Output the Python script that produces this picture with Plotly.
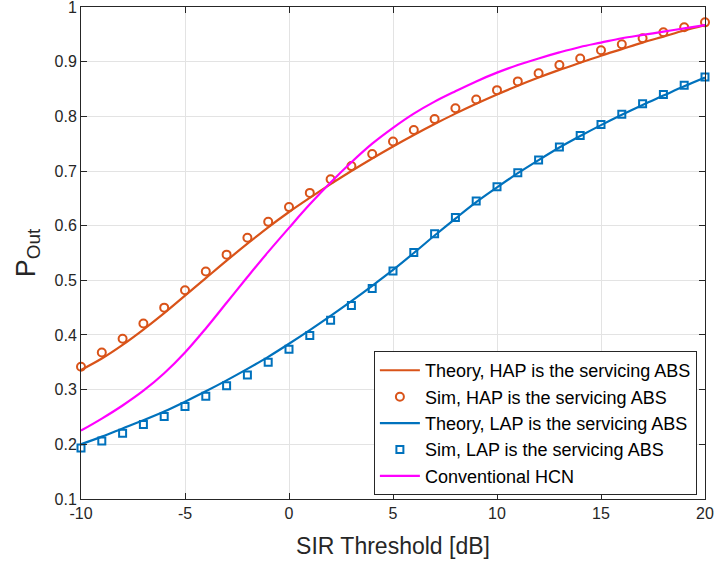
import plotly.graph_objects as go

sir_db = list(range(-10, 21))

theory_hap = [0.336, 0.357, 0.382, 0.410, 0.440, 0.472, 0.504, 0.536, 0.567, 0.597,
              0.625, 0.651, 0.676, 0.700, 0.723, 0.745, 0.766, 0.786, 0.805, 0.823,
              0.840, 0.856, 0.871, 0.885, 0.898, 0.911, 0.923, 0.935, 0.946, 0.957, 0.967]

sim_hap = [0.342, 0.368, 0.393, 0.421, 0.450, 0.482, 0.516, 0.547, 0.578, 0.607,
           0.634, 0.660, 0.685, 0.709, 0.731, 0.754, 0.775, 0.795, 0.815, 0.831,
           0.848, 0.864, 0.879, 0.894, 0.906, 0.921, 0.932, 0.943, 0.954, 0.963, 0.972]

theory_lap = [0.200, 0.214, 0.229, 0.244, 0.260, 0.278, 0.297, 0.317, 0.338, 0.360,
              0.384, 0.409, 0.435, 0.462, 0.490, 0.519, 0.550, 0.582, 0.613, 0.643,
              0.670, 0.696, 0.720, 0.743, 0.764, 0.784, 0.803, 0.821, 0.838, 0.855, 0.871]

sim_lap = [0.193, 0.206, 0.220, 0.236, 0.251, 0.269, 0.288, 0.307, 0.327, 0.350,
           0.374, 0.399, 0.427, 0.454, 0.485, 0.517, 0.551, 0.585, 0.615, 0.645,
           0.671, 0.697, 0.720, 0.744, 0.765, 0.785, 0.804, 0.823, 0.840, 0.857, 0.872]

conv_hcn = [0.225, 0.247, 0.271, 0.298, 0.330, 0.368, 0.412, 0.459, 0.506, 0.552,
            0.596, 0.639, 0.679, 0.716, 0.750, 0.779, 0.805, 0.827, 0.846, 0.864,
            0.880, 0.894, 0.906, 0.917, 0.927, 0.935, 0.943, 0.949, 0.955, 0.961, 0.967]

x_tickvals = [-10, -5, 0, 5, 10, 15, 20]
x_ticktext = ["-10", "-5", "0", "5", "10", "15", "20"]
y_tickvals = [0.1, 0.2, 0.3, 0.4, 0.5, 0.6, 0.7, 0.8, 0.9, 1.0]
y_ticktext = ["0.1", "0.2", "0.3", "0.4", "0.5", "0.6", "0.7", "0.8", "0.9", "1"]

names = ["Theory, HAP is the servicing ABS", "Sim, HAP is the servicing ABS",
         "Theory, LAP is the servicing ABS", "Sim, LAP is the servicing ABS",
         "Conventional HCN"]

C_HAP = "#D95319"
C_LAP = "#0072BD"
C_HCN = "#FF00FF"
AX = "#262626"
FONT = "Liberation Sans, Arial, sans-serif"

fig = go.Figure()
fig.add_trace(go.Scatter(x=sir_db, y=theory_hap, mode="lines", name=names[0],
                         line=dict(color=C_HAP, width=2.2, shape="spline")))
fig.add_trace(go.Scatter(x=sir_db, y=sim_hap, mode="markers", name=names[1], cliponaxis=False,
                         marker=dict(symbol="circle-open", size=8, color=C_HAP,
                                     line=dict(width=2, color=C_HAP))))
fig.add_trace(go.Scatter(x=sir_db, y=theory_lap, mode="lines", name=names[2],
                         line=dict(color=C_LAP, width=2.2, shape="spline")))
fig.add_trace(go.Scatter(x=sir_db, y=sim_lap, mode="markers", name=names[3], cliponaxis=False,
                         marker=dict(symbol="square-open", size=7, color=C_LAP,
                                     line=dict(width=2, color=C_LAP))))
fig.add_trace(go.Scatter(x=sir_db, y=conv_hcn, mode="lines", name=names[4],
                         line=dict(color=C_HCN, width=2.2, shape="spline")))

axis_common = dict(showline=True, linecolor=AX, linewidth=1, mirror="ticks",
                   ticks="inside", ticklen=6, tickcolor=AX, tickwidth=1,
                   showgrid=True, gridcolor="#E3E3E3", gridwidth=1, zeroline=False,
                   ticklabeloverflow="allow", automargin=False,
                   tickfont=dict(family=FONT, size=16, color=AX))

fig.update_xaxes(range=[-10, 20], tickvals=x_tickvals, ticktext=x_ticktext,
                 title=dict(text="SIR Threshold [dB]", font=dict(family=FONT, size=23, color=AX),
                            standoff=16),
                 **axis_common)
fig.update_yaxes(range=[0.0999, 1.0001], tickvals=y_tickvals, ticktext=y_ticktext,
                 title=dict(text="P<sub>Out</sub>", font=dict(family=FONT, size=27, color=AX),
                            standoff=11),
                 **axis_common)

fig.update_layout(
    width=714, height=566,
    margin=dict(l=81, r=9, t=7, b=67, autoexpand=False),
    paper_bgcolor="white", plot_bgcolor="white",
    font=dict(family=FONT, color=AX),
    legend=dict(x=0.987, y=0.008, xanchor="right", yanchor="bottom",
                bgcolor="white", bordercolor=AX, borderwidth=1,
                font=dict(family=FONT, size=18, color="#000000"),
                tracegroupgap=0, itemwidth=40),
)

fig.write_html("out.html")
